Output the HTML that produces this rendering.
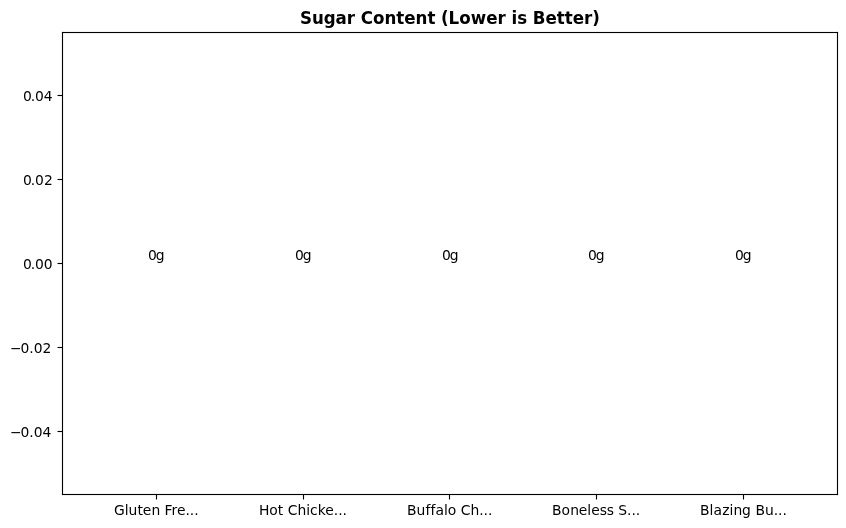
<!DOCTYPE html>
<html lang="en">
<head>
<meta charset="utf-8">
<title>Sugar Content (Lower is Better)</title>
<style>
html,body{margin:0;padding:0;background:#fff;}
body{width:846px;height:528px;overflow:hidden;}
svg{display:block;}
text{font-family:"DejaVu Sans","Liberation Sans",sans-serif;fill:#000;font-variant-ligatures:none;font-feature-settings:"liga" 0,"clig" 0;font-kerning:none;white-space:pre;}
.t{font-size:13.889px;}
.ttl{font-size:16.667px;font-weight:700;}
.ln{stroke:#000;stroke-width:1.111;fill:none;}
</style>
</head>
<body>
<svg width="846" height="528" viewBox="0 0 846 528">
<rect x="0" y="0" width="846" height="528" fill="#ffffff"/>
<g id="spines">
<rect x="61.9445" y="31.9445" width="1.1110" height="463.1110" fill="#000"/>
<rect x="836.9445" y="31.9445" width="1.1110" height="463.1110" fill="#000"/>
<rect x="61.9445" y="493.9445" width="776.1110" height="1.1110" fill="#000"/>
<rect x="61.9445" y="31.9445" width="776.1110" height="1.1110" fill="#000"/>
</g>
<g id="xticks">
<path class="ln" d="M156.5 494.5v5.0"/>
<path class="ln" d="M303.5 494.5v5.0"/>
<path class="ln" d="M449.5 494.5v5.0"/>
<path class="ln" d="M596.5 494.5v5.0"/>
<path class="ln" d="M743.5 494.5v5.0"/>
</g>
<g id="yticks">
<path class="ln" d="M62.5 95.5h-5.0"/>
<path class="ln" d="M62.5 179.5h-5.0"/>
<path class="ln" d="M62.5 263.5h-5.0"/>
<path class="ln" d="M62.5 347.5h-5.0"/>
<path class="ln" d="M62.5 431.5h-5.0"/>
</g>
<g id="xlabels">
<text class="t" x="113.875 124.625 128.5 137.375 142.75 151.375 160 164.375 171.375 176.875 185.375 189.75 194.125" y="515">Gluten Fre...</text>
<text class="t" x="258.875 269.25 277.75 283.25 287.625 297.375 306.125 310 317.625 325.25 333.75 338.125 342.5" y="515">Hot Chicke...</text>
<text class="t" x="407 416.562 425.375 430.375 435.375 444 447.812 456.375 460.75 470.5 479.25 483.562 488" y="515">Buffalo Ch...</text>
<text class="t" x="551.875 561.5 570.125 578.75 587.25 591.125 599.625 606.75 613.875 618.25 627 631.375 635.75" y="515">Boneless S...</text>
<text class="t" x="700 709.562 713.5 722.125 729.5 733.375 742.062 751 755.375 765 773.75 778.062 782.5" y="515">Blazing Bu...</text>
</g>
<g id="ylabels">
<text class="t" x="22.925 30.863 35.112 43.862" y="101">0.04</text>
<text class="t" x="22.925 30.863 35.112 44.05" y="185">0.02</text>
<text class="t" x="22.925 30.675 35.05 43.8" y="269">0.00</text>
<text class="t" x="9.925 20.55 29.3 33.675 42.425" y="353">−0.02</text>
<text class="t" x="9.925 20.55 29.3 33.675 42.425" y="437">−0.04</text>
</g>
<g id="values">
<text class="t" x="147.875 155.625" y="260">0g</text>
<text class="t" x="294.875 302.625" y="260">0g</text>
<text class="t" x="441.875 449.625" y="260">0g</text>
<text class="t" x="587.875 595.625" y="260">0g</text>
<text class="t" x="734.875 742.625" y="260">0g</text>
</g>
<g id="title">
<text class="ttl" transform="translate(0,24) scale(1,1.095)" x="299.938 311.938 323.688 335.562 346.688 354.938 360.688 372.938 384.438 396.188 404.188 415.562 427.438 435.312 441.062 448.562 459.188 470.688 486.188 497.438 505.688 511.438 517.188 526.938 532.688 545.438 556.688 564.688 572.688 584.062 592.312" y="0">Sugar Content (Lower is Better)</text>
</g>
</svg>
</body>
</html>
